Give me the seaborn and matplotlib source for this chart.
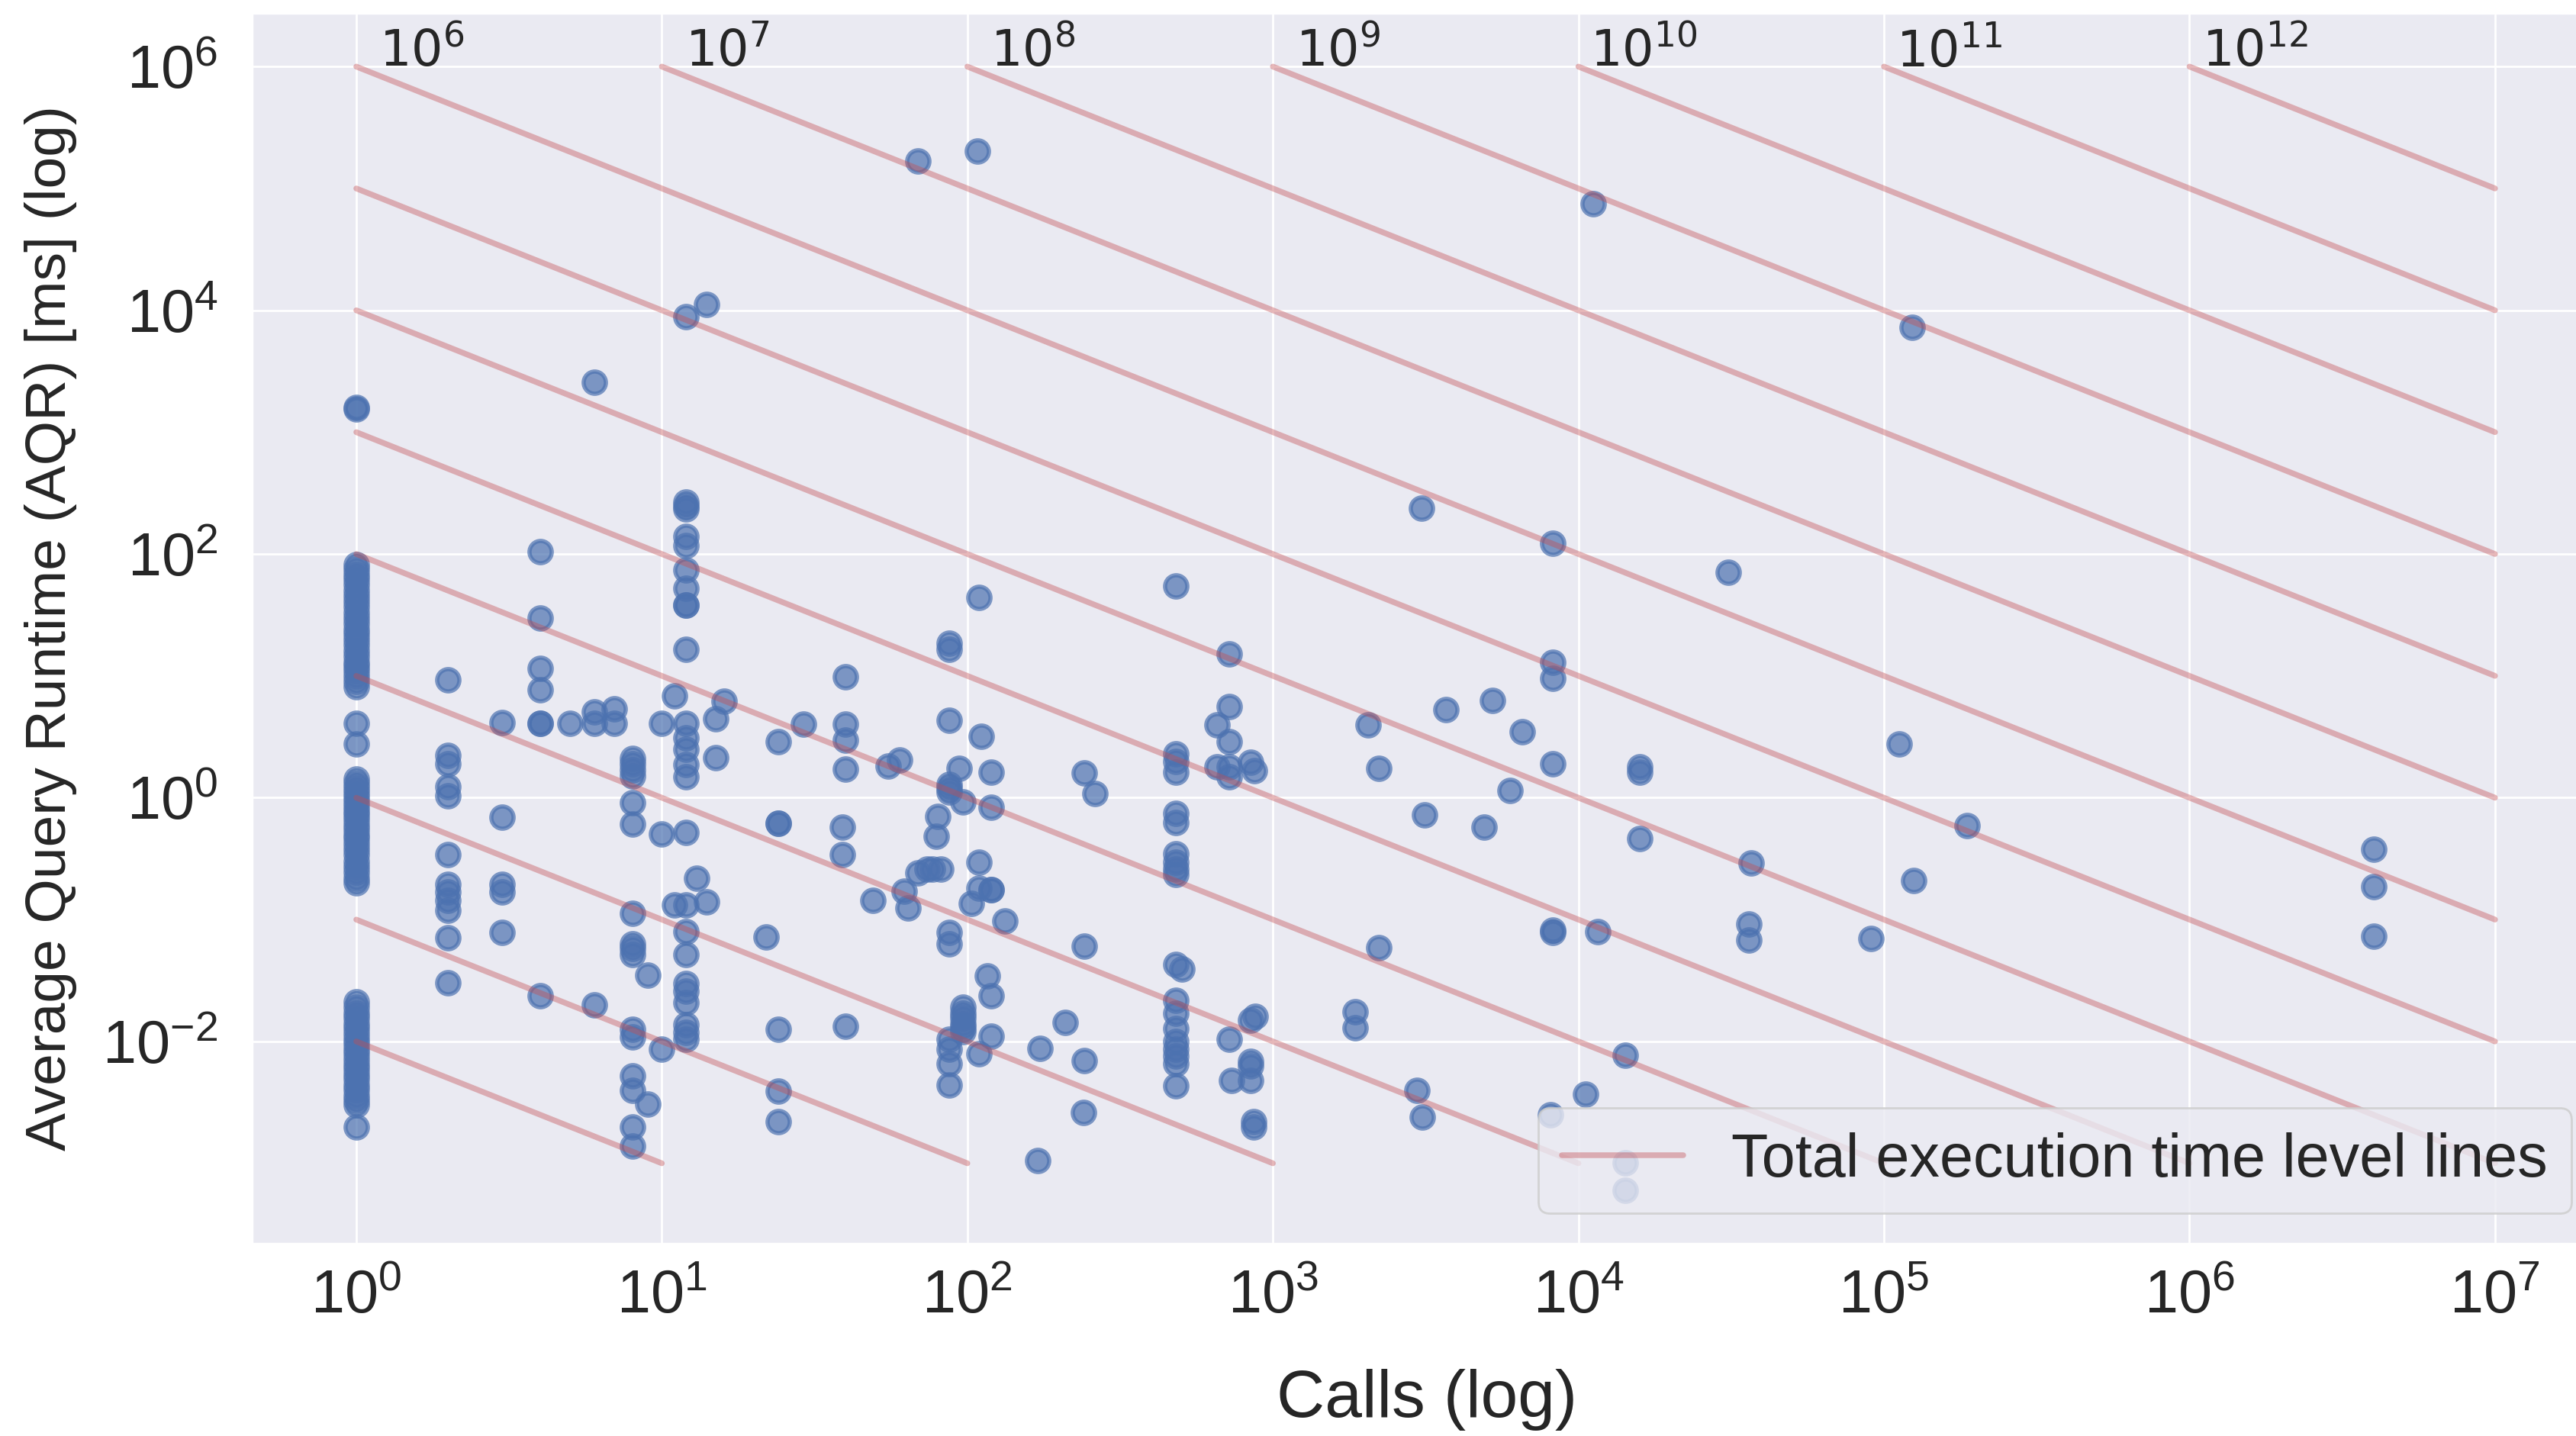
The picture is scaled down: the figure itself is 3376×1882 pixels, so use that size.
import numpy as np
import pandas as pd
import matplotlib
matplotlib.use("Agg")
import matplotlib.pyplot as plt
import seaborn as sns

# calls per query and the AQR values [ms] read for each calls value
calls_groups = [1, 2, 3, 4, 5, 6, 7, 8, 9, 10, 11, 12, 13, 14, 15, 16,
                22, 24, 29, 39, 40, 49, 55, 60, 62, 64, 69, 74, 77, 79, 80, 82, 87,
                94, 97, 103, 108, 109, 111, 116, 120, 133, 170, 173, 209, 240, 242, 261,
                480, 503, 655, 719, 731, 844, 865, 871, 874,
                1855, 2046, 2224, 2960, 3060, 3077, 3130, 3690, 4910, 5220, 5960, 6540,
                8110, 8240, 10560, 11200, 11540, 14250, 15850, 30900, 36100, 36800,
                90800, 112000, 124000, 125300, 187000, 4000000]

aqr_groups = [
    [1600, 1550,
     82, 75, 68, 62, 56, 50, 45, 41, 37, 33, 30, 27, 24, 22, 20, 18, 16, 14.5, 13, 12, 11, 10, 9, 8.2,
     4.1, 2.75,
     1.42, 1.3, 1.2, 1.1, 1.0, 0.92, 0.85, 0.78, 0.72, 0.66, 0.6, 0.55, 0.5, 0.46, 0.42, 0.38,
     0.34, 0.3, 0.27, 0.245, 0.22, 0.2,
     0.021, 0.019, 0.017, 0.0155, 0.014, 0.0128, 0.0116, 0.0105, 0.0095, 0.0087, 0.0079, 0.0072,
     0.0065, 0.0059, 0.0054, 0.0049, 0.0044, 0.004, 0.0036, 0.0033, 0.003, 0.002],
    [9.3, 2.24, 1.9, 1.24, 1.03, 0.34, 0.196, 0.168, 0.143, 0.119, 0.0714, 0.0304],
    [4.16, 0.69, 0.196, 0.168, 0.078],
    [105, 30, 11.5, 7.7, 4.1, 4.1, 0.0237],
    [4.1],
    [2570, 5.05, 4.1, 0.02],
    [5.4, 4.1],
    [2.1, 1.9, 1.7, 1.5, 0.91, 0.61, 0.113, 0.0635, 0.058, 0.052, 0.0125, 0.0109, 0.0052, 0.00395, 0.002, 0.00138],
    [0.0349, 0.00305],
    [4.1, 0.507, 0.0087],
    [6.9, 0.132],
    [8900, 268, 250, 233, 140, 117, 74, 52, 38, 38, 16.6, 4.1, 3.1, 2.5, 1.88, 1.48, 0.52, 0.132,
     0.08, 0.052, 0.03, 0.026, 0.0207, 0.0137, 0.0119, 0.0104],
    [0.219],
    [11200, 0.139],
    [4.47, 2.14],
    [6.2],
    [0.0715],
    [2.88, 0.62, 0.62, 0.0125, 0.0039, 0.0022],
    [4.0],
    [0.575, 0.341],
    [9.8, 4.0, 2.96, 1.71, 0.0133],
    [0.143],
    [1.82],
    [2.05],
    [0.171],
    [0.124],
    [168000, 0.24],
    [0.259],
    [0.259],
    [0.48],
    [0.70],
    [0.259],
    [18.6, 16.6, 4.3, 1.29, 1.2, 1.12, 0.078, 0.0635, 0.0104, 0.0086, 0.0066, 0.0044],
    [1.74],
    [0.93, 0.019, 0.017, 0.0155, 0.014, 0.013, 0.012],
    [0.136],
    [203000],
    [44, 0.297, 0.18, 0.0079],
    [3.2],
    [0.0343],
    [1.62, 0.83, 0.175, 0.175, 0.0237, 0.011],
    [0.097],
    [0.00105],
    [0.0088],
    [0.0143],
    [0.0026],
    [1.6, 0.0607, 0.007],
    [1.08],
    [55, 2.29, 1.97, 1.62, 0.745, 0.63, 0.348, 0.297, 0.259, 0.236, 0.0431, 0.0216, 0.0169,
     0.0128, 0.01, 0.0087, 0.0076, 0.0066, 0.0043],
    [0.039],
    [3.98, 1.78],
    [15.2, 5.6, 2.88, 1.78, 1.48, 0.0104],
    [0.0048],
    [1.95, 0.015, 0.0069, 0.0063, 0.0048],
    [0.0022, 0.002],
    [1.66],
    [0.016],
    [0.0175, 0.013],
    [3.98],
    [1.74, 0.059],
    [0.00395],
    [237],
    [0.00238],
    [0.72],
    [5.28],
    [0.575],
    [6.3],
    [1.15],
    [3.5],
    [0.0025],
    [122, 12.9, 9.5, 1.9, 0.082, 0.078],
    [0.0037],
    [74600],
    [0.08],
    [0.0077, 0.00101, 0.0006],
    [1.79, 1.62, 0.46],
    [70.5],
    [0.0916, 0.068],
    [0.29],
    [0.0695],
    [2.75],
    [7300],
    [0.21],
    [0.59],
    [0.378, 0.187, 0.0735],
]

# total execution time level lines: 10^k ms, drawn inside the calls / AQR box
level_exponents = list(range(-2, 13))
label_exponents = list(range(6, 13))
CALLS_MIN, CALLS_MAX = 1, 1e7
AQR_MIN, AQR_MAX = 1e-3, 1e6

df = pd.DataFrame({
    "calls": np.repeat(calls_groups, [len(g) for g in aqr_groups]),
    "aqr": np.concatenate(aqr_groups),
})

sns.set_theme(style="darkgrid")
plt.rcParams["font.family"] = ["Liberation Sans", "DejaVu Sans"]
plt.rcParams["mathtext.fontset"] = "dejavusans"
blue = sns.color_palette("deep")[0]
red = sns.color_palette("deep")[3]

fig = plt.figure(figsize=(16.88, 9.41), dpi=200)
ax = fig.add_axes([330 / 3376, 252 / 1882, 3080 / 3376, 1613 / 1882])

sns.scatterplot(data=df, x="calls", y="aqr", ax=ax, s=110, color=blue, alpha=0.7,
                edgecolor=blue, linewidth=2, zorder=2)

for i, k in enumerate(level_exponents):
    total = 10.0 ** k
    x0 = max(CALLS_MIN, total / AQR_MAX)
    x1 = min(CALLS_MAX, total / AQR_MIN)
    ax.plot([x0, x1], [total / x0, total / x1], color=red, alpha=0.4, lw=2.7,
            solid_capstyle="round", zorder=3,
            label="Total execution time level lines" if i == 0 else None)

for k in label_exponents:
    ax.text(10.0 ** (k - 6) * 10 ** 0.214, AQR_MAX, f"$10^{{{k}}}$", ha="center",
            va="baseline", fontsize=23.5, color=".15")

ax.set_xscale("log")
ax.set_yscale("log")
ax.set_xlim(10 ** -0.342, 10 ** 7.35)
ax.set_ylim(10 ** -3.66, 10 ** 6.44)
ax.set_xticks([10.0 ** e for e in range(0, 8)])
ax.set_yticks([1e-2, 1, 1e2, 1e4, 1e6])
ax.minorticks_off()
ax.tick_params(axis="both", length=0, labelsize=28.5)
ax.tick_params(axis="x", pad=12)
ax.tick_params(axis="y", pad=16)

ax.set_xlabel("Calls (log)", fontsize=31.5, labelpad=20)
ax.set_ylabel("Average Query Runtime (AQR) [ms] (log)", fontsize=27, labelpad=12)
ax.legend(loc="lower right", fontsize=28.5)

fig.savefig("out.png", dpi=200)
